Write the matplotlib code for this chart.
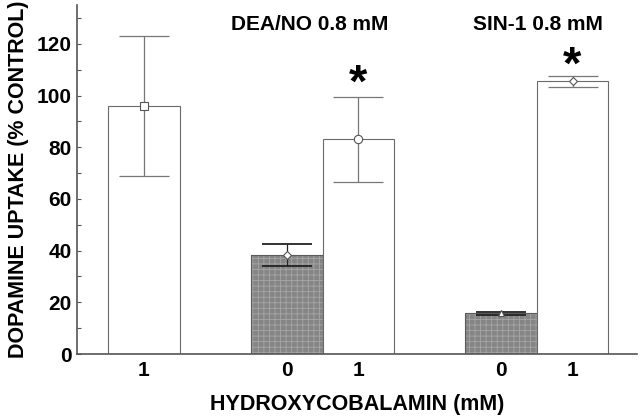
import numpy as np
import matplotlib.pyplot as plt

plt.rcParams['font.family'] = ['Liberation Sans', 'DejaVu Sans']
plt.rcParams['font.weight'] = 'bold'
plt.rcParams['hatch.linewidth'] = 0.6

# bar data
positions = [0, 2, 3, 5, 6]
tick_labels = ['1', '0', '1', '0', '1']
means = [96, 38.3, 83, 15.7, 105.5]
errors = [27, 4.4, 16.5, 0.5, 2.2]
filled = [False, True, False, True, False]
markers = ['s', 'D', 'o', '^', 'D']
marker_sizes = [6, 4, 6, 4, 4]

fig = plt.figure(figsize=(6.4, 4.19), dpi=100)
ax = fig.add_axes([0.120, 0.155, 0.875, 0.833])

for x, m, e, f, mk, ms in zip(positions, means, errors, filled, markers, marker_sizes):
    if f:
        # textured gray fill: hatch takes the edge colour, so draw it separately
        ax.bar(x, m, width=1.0, color='#858585', edgecolor='#a6a6a6', linewidth=0,
               hatch='+++', zorder=2)
        ax.bar(x, m, width=1.0, fill=False, edgecolor='#5a5a5a', linewidth=0.8, zorder=2)
    else:
        ax.bar(x, m, width=1.0, color='white', edgecolor='#6a6a6a', linewidth=0.8, zorder=2)
    ecol = '#222222' if f else '#777777'
    ax.errorbar(x, m, yerr=e, fmt='none', ecolor=ecol, elinewidth=0.9,
                capsize=18, capthick=1.3 if f else 0.9, zorder=3)
    ax.plot(x, m, marker=mk, ms=ms, mfc='white', mec='#555555', mew=0.8, zorder=4)

ax.set_xlim(-0.94, 6.9)
ax.set_ylim(0, 135)
ax.set_xticks(positions)
ax.set_xticklabels(tick_labels, fontsize=15, fontweight='bold')
ax.set_yticks(np.arange(0, 121, 20))
ax.set_yticks(np.arange(0, 131, 10), minor=True)
ax.tick_params(axis='y', which='both', direction='in', length=3, width=0.8,
               color='#555555', labelsize=15)
ax.tick_params(axis='x', length=0, pad=5)
for lbl in ax.get_yticklabels():
    lbl.set_fontweight('bold')

for side in ['top', 'right']:
    ax.spines[side].set_visible(False)
for side in ['left', 'bottom']:
    ax.spines[side].set_color('#555555')
    ax.spines[side].set_linewidth(1.2)

ax.set_xlabel('HYDROXYCOBALAMIN (mM)', fontsize=15.5, fontweight='bold', labelpad=10)
ax.set_ylabel('DOPAMINE UPTAKE (% CONTROL)', fontsize=15.5, fontweight='bold', labelpad=6)

ax.text(2.32, 127.5, 'DEA/NO 0.8 mM', ha='center', va='center', fontsize=15, fontweight='bold')
ax.text(5.51, 127.5, 'SIN-1 0.8 mM', ha='center', va='center', fontsize=15, fontweight='bold')
ax.text(3.0, 104, '*', ha='center', va='center', fontsize=34, fontweight='bold')
ax.text(6.0, 111, '*', ha='center', va='center', fontsize=34, fontweight='bold')

fig.savefig('out.png', dpi=100)
